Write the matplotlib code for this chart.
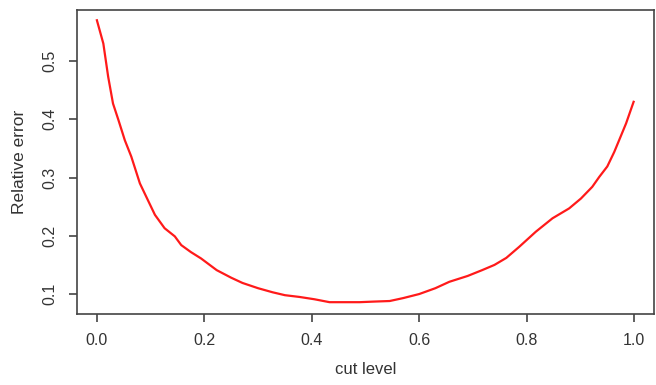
import matplotlib
matplotlib.use("Agg")
import matplotlib.pyplot as plt

# values
cut_level = [0.000, 0.012, 0.021, 0.030, 0.040, 0.052, 0.064, 0.080, 0.095, 0.108,
             0.126, 0.145, 0.157, 0.175, 0.194, 0.223, 0.250, 0.271, 0.300, 0.327,
             0.350, 0.377, 0.405, 0.433, 0.460, 0.489, 0.515, 0.545, 0.570, 0.600,
             0.630, 0.656, 0.690, 0.717, 0.740, 0.762, 0.786, 0.817, 0.848, 0.879,
             0.901, 0.922, 0.935, 0.950, 0.963, 0.972, 0.985, 0.999]
rel_error = [0.570, 0.530, 0.473, 0.427, 0.399, 0.364, 0.336, 0.290, 0.261, 0.236,
             0.213, 0.199, 0.184, 0.172, 0.161, 0.141, 0.128, 0.119, 0.110, 0.103,
             0.098, 0.095, 0.091, 0.086, 0.086, 0.086, 0.087, 0.088, 0.093, 0.100,
             0.110, 0.121, 0.131, 0.141, 0.150, 0.162, 0.181, 0.207, 0.230, 0.247,
             0.264, 0.284, 0.301, 0.319, 0.344, 0.364, 0.393, 0.430]

x_ticks = [0.0, 0.2, 0.4, 0.6, 0.8, 1.0]
y_ticks = [0.1, 0.2, 0.3, 0.4, 0.5]

plt.rcParams['font.family'] = ['Liberation Sans', 'DejaVu Sans']

fig = plt.figure(figsize=(6.56, 3.85), dpi=100)
ax = fig.add_axes([0.1174, 0.1844, 0.8796, 0.7896])

ax.plot(cut_level, rel_error, color='#ff1a1a', lw=1.6)

ax.set_xlim(-0.037, 1.037)
ax.set_ylim(0.0657, 0.5876)
ax.set_xticks(x_ticks)
ax.set_xticklabels([f"{t:.1f}" for t in x_ticks])
ax.set_yticks(y_ticks)
ax.set_yticklabels([f"{t:.1f}" for t in y_ticks], rotation=90, va='center')

for s in ax.spines.values():
    s.set_color('#444444')
    s.set_linewidth(1.2)
ax.tick_params(direction='out', length=6, width=1.2, color='#444444',
               labelsize=11.5, labelcolor='#333333', pad=8)

ax.set_xlabel("cut level", fontsize=12, color='#333333', labelpad=10)
ax.set_ylabel("Relative error", fontsize=12.5, color='#333333', labelpad=11)

fig.savefig("out.png", dpi=100)
